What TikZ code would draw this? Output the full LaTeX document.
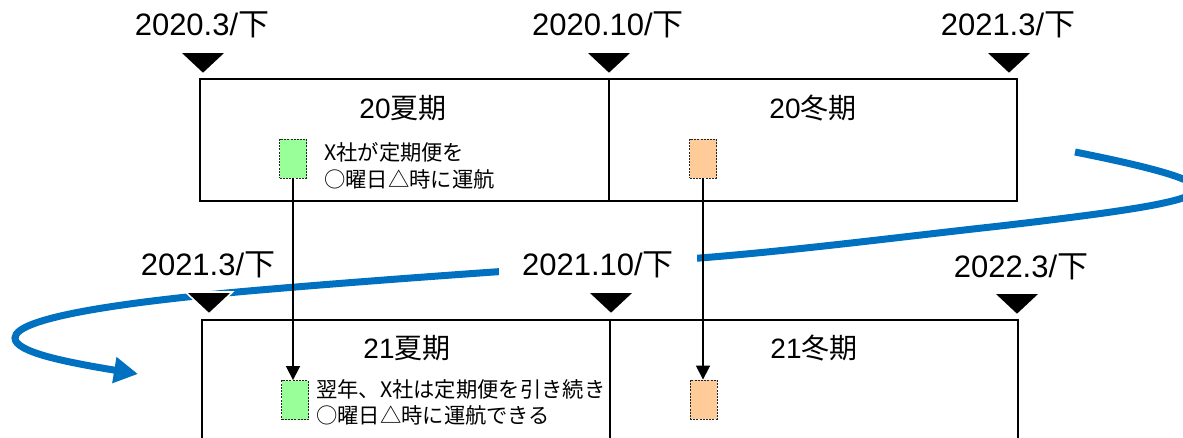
\documentclass[tikz,border=0pt]{standalone}
\usepackage{fontspec}
\setmainfont{Liberation Sans}
\newfontfamily\jp{Noto Sans CJK JP}
\usetikzlibrary{arrows.meta}
\definecolor{flowblue}{HTML}{0070C0}
\definecolor{slotgreen}{HTML}{99FF99}
\definecolor{slotorange}{HTML}{FFCC99}
\begin{document}
\begin{tikzpicture}[x=1pt,y=-1pt,
  cell/.style={draw,line width=2pt,minimum width=#1,minimum height=122pt,inner sep=0pt},
  lowcell/.style={draw,line width=2pt,minimum width=#1,minimum height=140pt,inner sep=0pt},
  datelabel/.style={inner sep=0pt,font=\fontsize{31}{36}\selectfont},
  periodlabel/.style={inner sep=0pt,font=\fontsize{28}{32}\selectfont},
  note/.style={inner sep=0pt,anchor=west,align=left,font=\jp\fontsize{21.3}{26.5}\selectfont},
  slot/.style={draw=black!85,line width=0.9pt,dash pattern=on 2pt off 1.2pt,minimum width=27pt,minimum height=39pt,inner sep=0pt},
  carry/.style={line width=1.8pt,-{Triangle[width=14pt,length=14pt]}},
  tick/.pic={\fill[black,draw=white,line width=1.6pt] (-23.5,-22) -- (23.5,-22) -- (0,0) -- cycle;}
]
\useasboundingbox (0,0) rectangle (1183,438);
\clip (0,0) rectangle (1183,438);

% blue flow curve (drawn first, masked by label)
\coordinate (b0) at (1075,152);
\coordinate (b1) at (1196,190);
\coordinate (b2) at (1000,226);
\coordinate (b3) at (700,258);
\coordinate (b4) at (260,290);
\coordinate (b5) at (15,338);
\coordinate (b6) at (138,374);
\draw[flowblue,line width=7pt,-{Triangle[width=25pt,length=24pt]}]
  (b0) .. controls (1150,167) and (1200,180) .. (b1)
       .. controls (1192,202) and (1120,212) .. (b2)
       .. controls (900,237) and (800,250) .. (b3)
       .. controls (550,268) and (400,278) .. (b4)
       .. controls (120,302) and (15,318) .. (b5)
       .. controls (15,352) and (65,362) .. (b6);

% cells
\node[cell=409pt] (s20) at (404.5,140) {};
\node[cell=408pt] (w20) at (813,140) {};
\node[lowcell=408pt] (s21) at (406,390) {};
\node[lowcell=408pt] (w21) at (814,390) {};

% triangles
\pic at (203,74) {tick};
\pic at (609,74) {tick};
\pic at (1009,74) {tick};
\pic at (209,314) {tick};
\pic at (611,314) {tick};
\pic at (1017,315) {tick};

% date labels
\node[datelabel] (d1) at (202,25) {2020.3/{\jp 下}};
\node[datelabel] (d2) at (608,25) {2020.10/{\jp 下}};
\node[datelabel] (d3) at (1008,25) {2021.3/{\jp 下}};
\node[datelabel] (d4) at (208,265) {2021.3/{\jp 下}};
\node[datelabel,fill=white,inner xsep=23pt,inner ysep=3pt] (d5) at (598,265) {2021.10/{\jp 下}};
\node[datelabel] (d6) at (1021,267) {2022.3/{\jp 下}};

% period labels
\node[periodlabel] (p1) at (403,108) {20{\jp 夏期}};
\node[periodlabel] (p2) at (813,108) {20{\jp 冬期}};
\node[periodlabel] (p3) at (407,348) {21{\jp 夏期}};
\node[periodlabel] (p4) at (814,348) {21{\jp 冬期}};

% slots
\node[slot,fill=slotgreen] (g1) at (293,158.5) {};
\node[slot,fill=slotorange] (o1) at (703,158.5) {};
\node[slot,fill=slotgreen] (g2) at (295,400) {};
\node[slot,fill=slotorange] (o2) at (703.5,399.5) {};

% notes
\node[note] (n1) at (324,166) {X社が定期便を\\○曜日△時に運航};
\node[note] (n2) at (316,402.5) {翌年、X社は定期便を引き続き\\○曜日△時に運航できる};

% carry-over arrows
\draw[carry] (g1.south) -- (g1.south |- g2.north);
\draw[carry] (o1.south) -- (o1.south |- o2.north);
\end{tikzpicture}
\end{document}
